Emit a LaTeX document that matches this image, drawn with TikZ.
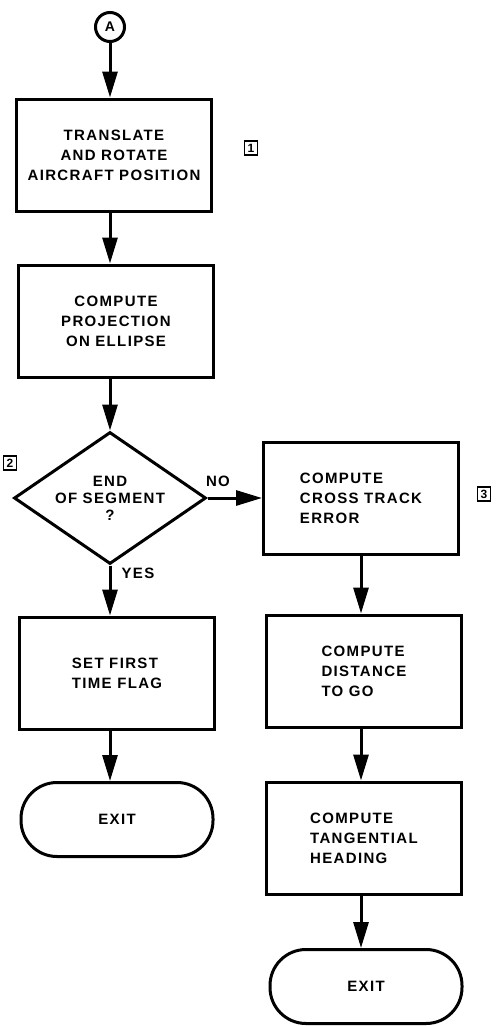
\documentclass[tikz,border=0pt]{standalone}
\usepackage{fontspec}
\setmainfont{Liberation Sans}[LetterSpace=9]
\usetikzlibrary{arrows.meta,shapes.geometric}
\tikzset{
 box/.style={draw,line width=3pt,minimum width=195pt,minimum height=112pt,inner sep=0pt,font=\fontsize{15}{20}\selectfont\bfseries},
 boxl/.style={box,align=left},
 boxc/.style={box,align=center},
 dec/.style={draw,diamond,line width=3pt,minimum width=192pt,minimum height=132pt,inner sep=0pt,aspect=1.45,align=center,font=\fontsize{15}{17}\selectfont\bfseries},
 term/.style={draw,line width=3pt,rounded corners=36pt,minimum width=192pt,minimum height=74pt,inner sep=0pt,font=\fontsize{15}{15}\selectfont\bfseries},
 conn/.style={line width=3pt,-{Triangle[length=26pt,width=15pt]}},
 refbox/.style={draw,line width=1.5pt,minimum width=13pt,minimum height=14pt,inner sep=0pt,font=\fontsize{12}{12}\selectfont\bfseries},
 lab/.style={font=\fontsize{15}{15}\selectfont\bfseries},
 conA/.style={draw,circle,line width=3pt,minimum size=29pt,inner sep=0pt,font=\fontsize{14}{14}\selectfont\bfseries}
}
\begin{document}
\begin{tikzpicture}[x=1pt,y=-1pt]
\useasboundingbox (0,0) rectangle (497,1026);
% left column
\node[conA] (A) at (110,27) {A};
\node[boxc] (b1) at (114,155) {TRANSLATE\\AND ROTATE\\AIRCRAFT POSITION};
\node[boxc] (b2) at (116,321) {COMPUTE\\PROJECTION\\ON ELLIPSE};
\node[dec] (d) at (110,498) {END\\OF SEGMENT\\?};
\node[boxl] (b4) at (117,673) {SET FIRST\\TIME FLAG};
\node[term] (e1) at (117,819.5) {EXIT};
% right column
\node[boxl] (b3) at (361,498) {COMPUTE\\CROSS TRACK\\ERROR};
\node[boxl] (b5) at (364,671) {COMPUTE\\DISTANCE\\TO GO};
\node[boxl] (b6) at (364,838) {COMPUTE\\TANGENTIAL\\HEADING};
\node[term] (e2) at (366,986.5) {EXIT};
% reference labels
\node[refbox] (r1) at (251,148) {1};
\node[refbox] (r2) at (10,463) {2};
\node[refbox] (r3) at (484,494) {3};
% branch labels
\node[lab] (no) at (218,481) {NO};
\node[lab] (yes) at (138,573) {YES};
% connectors
\draw[conn] (A.south) -- (A.south |- b1.north);
\draw[conn] (b1.south -| A.south) -- (A.south |- b2.north);
\draw[conn] (b2.south -| d.north) -- (d.north);
\draw[conn] (d.south) -- (d.south |- b4.north);
\draw[conn] (b4.south -| d.south) -- (d.south |- e1.north);
\draw[conn] (d.east) -- (b3.west);
\draw[conn] (b3.south) -- (b3.south |- b5.north);
\draw[conn] (b5.south -| b3.south) -- (b3.south |- b6.north);
\draw[conn] (b6.south -| b3.south) -- (b3.south |- e2.north);
\end{tikzpicture}
\end{document}
